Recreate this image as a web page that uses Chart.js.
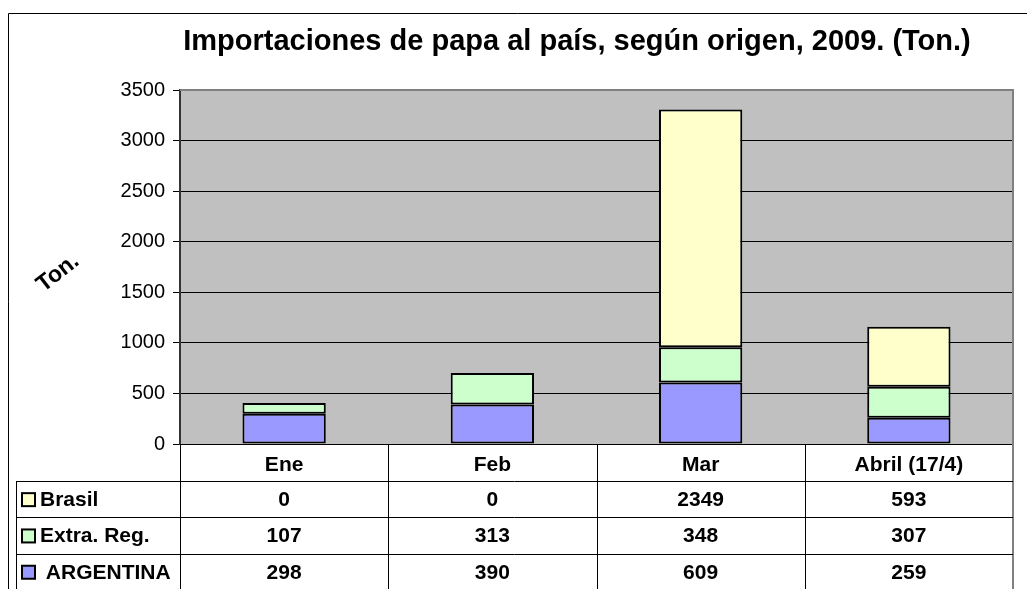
<!DOCTYPE html>
<html>
<head>
<meta charset="utf-8">
<script src="https://cdn.jsdelivr.net/npm/chart.js@4.4.0/dist/chart.umd.min.js"></script>
<style>
    body { margin: 0; background: #fff; }
</style>
</head>
<body>
<canvas id="barCanvas" width="1027" height="589"></canvas>
<script>
const months = ["Ene", "Feb", "Mar", "Abril (17/4)"];
const brasil = [0, 0, 2349, 593];
const extraReg = [107, 313, 348, 307];
const argentina = [298, 390, 609, 259];
const seriesNames = ["Brasil", "Extra. Reg.", " ARGENTINA"];
const seriesColors = ["#ffffcc", "#ccffcc", "#9999ff"];

const FONT = "Arial, 'Liberation Sans', sans-serif";

// table rows go top to bottom: Brasil, Extra. Reg., ARGENTINA
const tableRows = [
    { name: seriesNames[0], data: brasil, color: seriesColors[0] },
    { name: seriesNames[1], data: extraReg, color: seriesColors[1] },
    { name: seriesNames[2], data: argentina, color: seriesColors[2] }
];

const tablePlugin = {
    id: "dataTable",
    beforeDraw(chart) {
        const { ctx, chartArea: a } = chart;
        ctx.save();
        ctx.fillStyle = "#c0c0c0";
        ctx.fillRect(a.left, a.top, a.right - a.left, a.bottom - a.top);
        ctx.restore();
    },
    afterDraw(chart) {
        const { ctx, chartArea: a } = chart;
        const xs = chart.scales.x;
        const H = chart.height;
        const colW = (a.right - a.left) / months.length;
        const headBottom = a.bottom + 37;
        const rowH = 36.3;
        const tableLeft = 16;

        ctx.save();
        // outer frame
        ctx.strokeStyle = "#000";
        ctx.lineWidth = 1;
        ctx.beginPath();
        ctx.moveTo(8.5, H);
        ctx.lineTo(8.5, 13.5);
        ctx.lineTo(chart.width, 13.5);
        ctx.stroke();

        // plot frame top / right in grey
        ctx.strokeStyle = "#808080";
        ctx.lineWidth = 2;
        ctx.beginPath();
        ctx.moveTo(a.left, a.top);
        ctx.lineTo(a.right, a.top);
        ctx.lineTo(a.right, H);
        ctx.stroke();

        // title
        ctx.fillStyle = "#000";
        ctx.font = "bold 29px " + FONT;
        ctx.textAlign = "center";
        ctx.textBaseline = "alphabetic";
        ctx.fillText("Importaciones de papa al país, según origen, 2009. (Ton.)", 577, 50);

        // rotated axis title
        ctx.save();
        ctx.translate(58, 273);
        ctx.rotate(-38 * Math.PI / 180);
        ctx.font = "bold 23px " + FONT;
        ctx.textAlign = "center";
        ctx.textBaseline = "middle";
        ctx.fillText("Ton.", 0, 0);
        ctx.restore();

        // table grid
        ctx.strokeStyle = "#000";
        ctx.lineWidth = 1;
        ctx.beginPath();
        for (let r = 0; r < tableRows.length; r++) {
            const y = Math.round(headBottom + r * rowH) + 0.5;
            ctx.moveTo(tableLeft, y);
            ctx.lineTo(a.right, y);
        }
        for (let i = 0; i < months.length; i++) {
            const x = Math.round(a.left + i * colW) + 0.5;
            ctx.moveTo(x, a.bottom);
            ctx.lineTo(x, H);
        }
        ctx.moveTo(tableLeft + 0.5, headBottom);
        ctx.lineTo(tableLeft + 0.5, H);
        ctx.stroke();

        // table content
        ctx.font = "bold 21px " + FONT;
        ctx.textBaseline = "middle";
        tableRows.forEach((row, r) => {
            const yc = headBottom + r * rowH + rowH / 2 + 1;
            ctx.fillStyle = row.color;
            ctx.fillRect(22, yc - 7, 13, 13);
            ctx.strokeStyle = "#000";
            ctx.lineWidth = 2;
            ctx.strokeRect(22, yc - 7, 13, 13);
            ctx.fillStyle = "#000";
            ctx.textAlign = "left";
            ctx.fillText(row.name, 40, yc);
            ctx.textAlign = "center";
            row.data.forEach((v, i) => {
                ctx.fillText(String(v), xs.getPixelForValue(i), yc);
            });
        });
        ctx.restore();
    }
};

new Chart(document.getElementById("barCanvas"), {
    type: "bar",
    data: {
        labels: months,
        datasets: [
            { label: seriesNames[2], data: argentina, backgroundColor: seriesColors[2] },
            { label: seriesNames[1], data: extraReg, backgroundColor: seriesColors[1] },
            { label: seriesNames[0], data: brasil, backgroundColor: seriesColors[0] }
        ].map(d => Object.assign(d, {
            borderColor: "#000",
            borderWidth: 2,
            borderSkipped: false,
            categoryPercentage: 1,
            barPercentage: 0.4
        }))
    },
    options: {
        responsive: false,
        animation: false,
        layout: { padding: { top: 90, right: 14, left: 0, bottom: 0 } },
        plugins: {
            legend: { display: false },
            title: { display: false },
            tooltip: { enabled: false }
        },
        scales: {
            x: {
                stacked: true,
                afterFit: s => { s.height = 145; },
                grid: { display: false, drawTicks: false },
                border: { display: false },
                ticks: {
                    color: "#000",
                    padding: 9,
                    font: { family: FONT, size: 21, weight: "bold" }
                }
            },
            y: {
                stacked: true,
                min: 0,
                max: 3500,
                afterFit: s => { s.width = 180; },
                grid: {
                    color: ctx => (ctx.tick && ctx.tick.value === 3500 ? "#808080" : "#000"),
                    lineWidth: 1,
                    tickLength: 7,
                    tickColor: "#000"
                },
                border: { color: "#333", width: 2 },
                ticks: {
                    stepSize: 500,
                    color: "#000",
                    padding: 8,
                    font: { family: FONT, size: 20 },
                    callback: v => String(v)
                }
            }
        }
    },
    plugins: [tablePlugin]
});
</script>
</body>
</html>
